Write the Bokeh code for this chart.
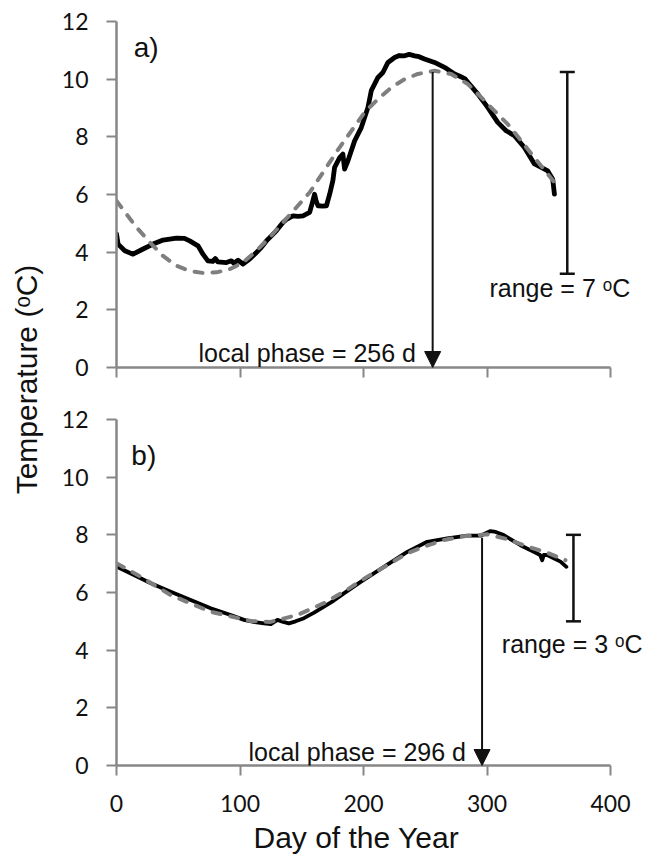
from math import pi
from bokeh.plotting import figure
from bokeh.layouts import row, column
from bokeh.models import (Range1d, FixedTicker, Label, Arrow, NormalHead,
                          Whisker, TeeHead, ColumnDataSource, Title)
from bokeh.embed import file_html
from bokeh.resources import INLINE

# ---------------- data ----------------
# panel a) observed temperature
obs_a_day = [0, 1.3, 6.7, 13.4, 21.5, 29.6, 37.7, 48.5, 55, 59.3, 66, 70, 74, 78, 80, 82,
             89, 93, 95, 98.4, 102.4, 107.8, 113.3, 117, 121.4, 125, 129.4, 134.8, 138,
             142.9, 147, 151, 156.4, 158.5, 160.4, 161.5, 163.1, 167, 170, 172.6, 175.2,
             176.6, 180.7, 183.3, 184.7, 187.4, 192.8, 198.2, 203.6, 206.3, 211.7, 215.7,
             219.8, 225.2, 229, 233.3, 237, 241.4, 245, 249.4, 257.5, 265.6, 273.7, 278,
             282, 284.5, 292.6, 300.6, 308.7, 315.5, 322.2, 330.3, 338.4, 343.9, 349.2,
             353.2, 354.6]
obs_a_temp = [4.63, 4.28, 4.05, 3.93, 4.11, 4.28, 4.42, 4.49, 4.48, 4.39, 4.22, 3.93, 3.70,
              3.68, 3.78, 3.66, 3.64, 3.70, 3.62, 3.72, 3.59, 3.76, 3.99, 4.15, 4.39, 4.55,
              4.74, 5.03, 5.15, 5.26, 5.24, 5.26, 5.38, 5.70, 6.01, 5.80, 5.61, 5.60, 5.61,
              6.01, 6.48, 6.94, 7.28, 7.40, 6.88, 7.17, 7.86, 8.32, 9.02, 9.60, 10.06, 10.23,
              10.58, 10.75, 10.82, 10.81, 10.86, 10.81, 10.78, 10.70, 10.58, 10.41, 10.18,
              10.10, 10.02, 9.89, 9.48, 9.02, 8.50, 8.21, 8.04, 7.63, 7.06, 6.94, 6.82,
              6.53, 6.01]
# panel a) harmonic fit
fit_a_day = [0, 8.1, 16.2, 27, 37.7, 48.5, 59.3, 70, 81, 91.7, 102.4, 113.3, 124, 134.8,
             145.6, 156.4, 168.5, 179.3, 190.1, 200.9, 211.7, 222.5, 233.3, 244, 257.5,
             271, 284.5, 295.3, 306.1, 316.8, 327.7, 338.4, 349.2, 354.6]
fit_a_temp = [5.78, 5.32, 4.86, 4.34, 3.87, 3.53, 3.35, 3.28, 3.30, 3.41, 3.64, 4.05, 4.51,
              5.03, 5.55, 6.07, 6.85, 7.55, 8.20, 8.85, 9.31, 9.71, 10.00, 10.18, 10.29,
              10.18, 9.83, 9.37, 8.90, 8.44, 7.86, 7.28, 6.71, 6.42]
# panel b) observed temperature
obs_b_day = [0.2, 11.6, 27.8, 43.9, 60.1, 76.3, 92.5, 103.2, 112, 119.4, 125, 130.3, 135,
             139.6, 145, 151.8, 160, 168, 176, 184.1, 197.7, 216.5, 235.4, 251.6, 267.8,
             284, 294.7, 302.8, 307, 313.6, 327.1, 337.9, 343, 344.7, 346, 348.7, 359.5,
             364.3]
obs_b_temp = [6.89, 6.66, 6.32, 6.03, 5.74, 5.45, 5.22, 5.05, 4.97, 4.93, 4.90, 5.05, 4.98,
              4.93, 5.00, 5.11, 5.30, 5.51, 5.72, 5.97, 6.37, 6.89, 7.41, 7.76, 7.88, 7.97,
              7.97, 8.13, 8.10, 7.99, 7.64, 7.41, 7.30, 7.12, 7.30, 7.30, 7.07, 6.89]
# panel b) harmonic fit
fit_b_day = [0.2, 17, 43.9, 76.3, 108.7, 124.8, 146.4, 168, 186.9, 203.1, 219.3, 235.4,
             248.9, 265, 281.2, 300.2, 316.3, 332.5, 348.7, 363.5]
fit_b_temp = [7.01, 6.61, 5.91, 5.33, 5.01, 4.98, 5.22, 5.63, 6.10, 6.55, 6.95, 7.36, 7.59,
              7.82, 7.95, 8.02, 7.85, 7.60, 7.38, 7.12]

# annotations: local phase (day), fit maximum there, range bar (position, min, max)
phase_a, phase_top_a = 256, 10.25
phase_b, phase_top_b = 296, 7.9
range_a_x, range_a_low, range_a_high, range_a_val = 365, 3.25, 10.25, 7
range_b_x, range_b_low, range_b_high, range_b_val = 370, 5.0, 8.0, 3

x_ticks = [0, 100, 200, 300, 400]
y_ticks = [0, 2, 4, 6, 8, 10, 12]

AX = "#878787"
TXT = "#111111"
SANS = "Liberation Sans"
PX_PER_DAY = 494 / 400


def panel(left, frame_w, top, bottom, show_x_labels):
    p = figure(frame_width=frame_w, frame_height=346,
               x_range=Range1d(0, frame_w / PX_PER_DAY), y_range=Range1d(0, 12),
               output_backend="svg", toolbar_location=None,
               min_border_left=left, min_border_right=0,
               min_border_top=top, min_border_bottom=bottom)
    p.xgrid.visible = False
    p.ygrid.visible = False
    p.outline_line_color = None
    p.background_fill_color = "white"
    p.border_fill_color = "white"
    p.xaxis.ticker = FixedTicker(ticks=x_ticks)
    p.yaxis.ticker = FixedTicker(ticks=y_ticks)
    p.xaxis.bounds = (0, 400)
    for ax in (p.xaxis, p.yaxis):
        ax.axis_line_color = AX
        ax.axis_line_width = 2.5
        ax.major_tick_line_color = AX
        ax.major_tick_line_width = 2
        ax.major_tick_in = 0
        ax.major_tick_out = 10
        ax.minor_tick_in = 0
        ax.minor_tick_out = 0
        ax.minor_tick_line_color = None
        ax.major_label_text_font = "Lato"
        ax.major_label_text_font_size = "23px"
        ax.major_label_text_color = TXT
    p.yaxis.major_label_standoff = 18
    if show_x_labels:
        p.xaxis.major_label_standoff = 19
        # x-axis title, placed under the 0-400 axis (the frame runs a bit further right)
        p.add_layout(Title(text="Day of the Year", align="left", offset=137,
                           standoff=9, text_font=SANS, text_font_size="30px",
                           text_font_style="normal", text_color=TXT), "below")
    else:
        p.xaxis.major_label_overrides = {t: "" for t in x_ticks}
        p.xaxis.major_label_text_font_size = "0px"
        p.xaxis.major_label_standoff = 0
    return p


def decorate(p, oday, otemp, fday, ftemp, lw_obs, tag, tag_xy,
             phase, phase_top, phase_xy, rx, rlow, rhigh, rval, range_xy):
    p.line(oday, otemp, line_color="black", line_width=lw_obs,
           line_join="round", line_cap="round")
    p.line(fday, ftemp, line_color="#7f7f7f", line_width=4,
           line_dash="8 10", line_cap="round")
    p.add_layout(Label(x=tag_xy[0], y=tag_xy[1], text=tag, text_font=SANS,
                       text_font_size="28px", text_color=TXT,
                       text_baseline="alphabetic"))
    p.add_layout(Arrow(end=NormalHead(size=16, fill_color=TXT, line_color=TXT,
                                      line_width=1),
                       x_start=phase, y_start=phase_top, x_end=phase, y_end=0,
                       line_color=TXT, line_width=2))
    p.add_layout(Label(x=phase_xy[0], y=phase_xy[1],
                       text=f"local phase = {phase} d", text_font=SANS,
                       text_font_size="25px", text_color=TXT,
                       text_align="right", text_baseline="alphabetic"))
    src = ColumnDataSource(dict(base=[rx], lower=[rlow], upper=[rhigh]))
    p.add_layout(Whisker(source=src, base="base", lower="lower", upper="upper",
                         dimension="height", line_color=TXT, line_width=2.5,
                         upper_head=TeeHead(size=15, line_color=TXT, line_width=2.5),
                         lower_head=TeeHead(size=15, line_color=TXT, line_width=2.5)))
    p.add_layout(Label(x=range_xy[0], y=range_xy[1],
                       text=f"range = {rval} \u1d52C", text_font=SANS,
                       text_font_size="25px", text_color=TXT,
                       text_align="left", text_baseline="alphabetic"))


LAB_W = 50
p1 = panel(112 - LAB_W, 647 - 112, 21, 28, False)
decorate(p1, obs_a_day, obs_a_temp, fit_a_day, fit_a_temp, 4.8, "a)", (14, 11.1),
         phase_a, phase_top_a, (242.5, 0.5),
         range_a_x, range_a_low, range_a_high, range_a_val, (302, 2.74))

p2 = panel(116 - LAB_W, 647 - 116, 24, 93, True)
decorate(p2, obs_b_day, obs_b_temp, fit_b_day, fit_b_temp, 3.8, "b)", (12, 10.75),
         phase_b, phase_top_b, (283, 0.48),
         range_b_x, range_b_low, range_b_high, range_b_val, (312, 4.22))

# shared y-axis title in a narrow blank figure on the left
ylab = figure(width=LAB_W, height=858, x_range=Range1d(0, LAB_W), y_range=Range1d(0, 858),
              x_axis_type=None, y_axis_type=None, output_backend="svg",
              toolbar_location=None, min_border=0)
ylab.outline_line_color = None
ylab.xgrid.visible = False
ylab.ygrid.visible = False
ylab.add_layout(Label(x=26, y=479, text="Temperature (\u1d52C)", angle=pi / 2,
                      text_font=SANS, text_font_size="30px", text_color=TXT,
                      text_align="center", text_baseline="alphabetic"))

layout = row(ylab, column(p1, p2))
open("out.html", "w").write(file_html(layout, INLINE))
